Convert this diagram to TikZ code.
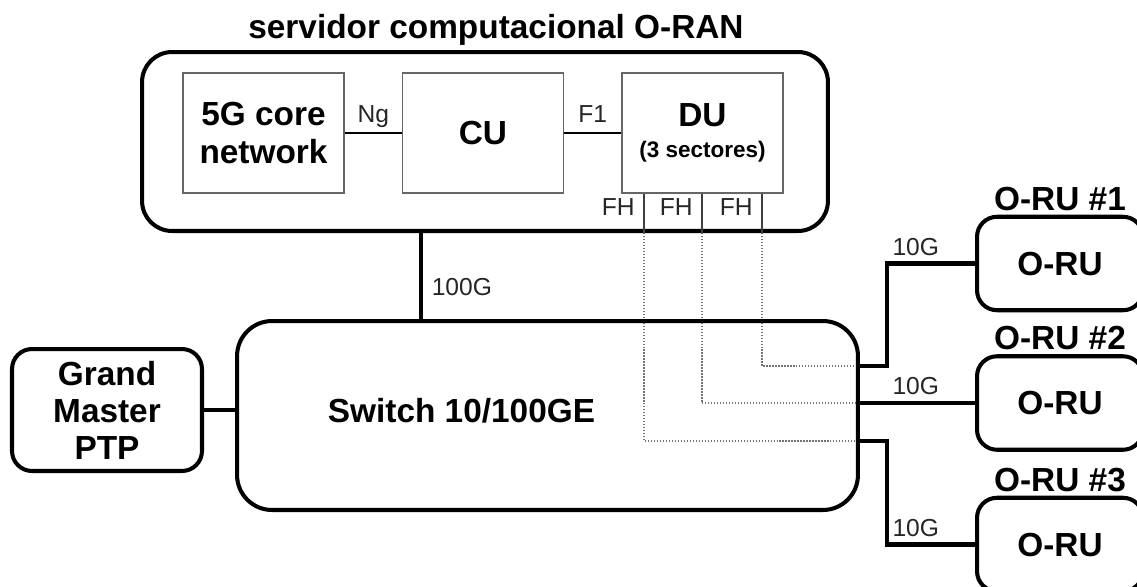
\documentclass[tikz,border=0pt]{standalone}
\usepackage{fontspec}
\setmainfont{Liberation Sans}
\usetikzlibrary{positioning,backgrounds}

\begin{document}
\begin{tikzpicture}[x=0.02cm, y=-0.02cm,
  big/.style={font=\fontsize{19}{22}\selectfont\bfseries, align=center, inner sep=0pt},
  small/.style={font=\fontsize{14}{16}\selectfont, text=black!85, inner sep=2pt},
  unitbox/.style={big, draw=black!60, line width=0.8pt, minimum width=3.22cm, minimum height=2.4cm},
  hostbox/.style={draw, line width=2.3pt, rounded corners=#1},
  link/.style={line width=2.3pt},
  iface/.style={line width=0.7pt},
  fhport/.style={line width=0.7pt, draw=black!75},
  fhpath/.style={line width=0.7pt, draw=black!55, densely dotted},
  rate/.style={small, above right, yshift=1.5pt},
]
\useasboundingbox (0,0) rectangle (1137,586);

%% server with the three functions
\node[hostbox=0.6cm, minimum width=13.72cm, minimum height=3.58cm] (server) at (485,141.5) {};
\node[big, anchor=base] (title) at (496,38) {servidor computacional O-RAN};

\node[unitbox] (core) at (263.5,133) {5G core\\network};
\node[unitbox] (cu) at (483,133) {CU};
\node[unitbox] (du) at (702.5,133) {DU\\[-4.5pt]{\fontsize{12.8}{14}\selectfont(3 sectores)}};

\draw[iface] (core) -- node[small, anchor=base, yshift=6pt] (ng) {Ng} (cu);
\draw[iface] (cu) -- node[small, anchor=base, yshift=6pt] (f1) {F1} (du);

%% switch and clock source
\node[hostbox=0.7cm, minimum width=12.42cm, minimum height=3.78cm] (sw) at (547.5,415.5) {};
\node[big] (swname) at (461.5,410.5) {Switch 10/100GE};

\node[hostbox=0.4cm, minimum width=3.8cm, minimum height=2.44cm, big, font=\fontsize{19}{21}\selectfont\bfseries] (gm) at (107,410) {Grand\\Master\\PTP};

%% radio units
\foreach \i/\y in {1/263.5, 2/403, 3/544.5}{
  \node[hostbox=0.4cm, minimum width=3.32cm, minimum height=1.87cm, big] (oru\i) at (1060,\y) {O-RU};
  \node[big, above=0.08cm of oru\i] (orutag\i) {O-RU \#\i};
}

%% helper positions for the fronthaul ports and rows
\coordinate (fhx1) at (644,0);
\coordinate (fhx2) at (702,0);
\coordinate (fhx3) at (762,0);
\coordinate (row1) at (0,366);
\coordinate (row3) at (0,441);
\coordinate (bx) at (887,0);
\coordinate (upx) at (421,0);

\foreach \i in {1,2,3}
  \draw[fhport] (du.south -| fhx\i) -- node[small, left, pos=0.35, xshift=-3pt] {FH} (server.south -| fhx\i);

%% fronthaul runs through the switch, kept under the borders
\begin{scope}[on background layer]
  \draw[fhpath] (server.south -| fhx3) |- (sw.east |- row1);
  \draw[fhpath] (server.south -| fhx2) |- (sw.east |- oru2);
  \draw[fhpath] (server.south -| fhx1) |- (sw.east |- row3);
\end{scope}

\draw[link] (server.south -| upx) -- node[small, right, pos=0.63, xshift=3pt] {100G} (sw.north -| upx);
\draw[link] (gm) -- (sw.west |- gm);

\draw[link] (sw.east |- row1) -| (bx |- oru1) node[rate] {10G} -- (oru1);
\draw[link] (sw.east |- oru2) -- (bx |- oru2) node[rate] {10G} -- (oru2);
\draw[link] (sw.east |- row3) -| (bx |- oru3) node[rate] {10G} -- (oru3);

\end{tikzpicture}
\end{document}
